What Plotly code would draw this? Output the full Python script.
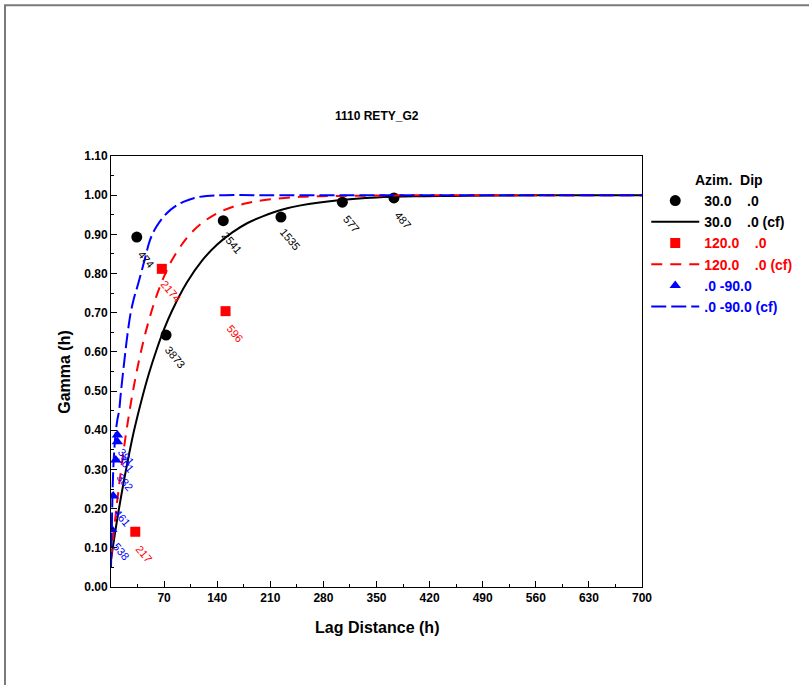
import plotly.graph_objects as go

# ---- experimental variogram points (lag, gamma, number of pairs) ----
lag_az30 = [34, 72.6, 148, 224, 305, 373]
gamma_az30 = [0.893, 0.643, 0.935, 0.944, 0.982, 0.993]
pairs_az30 = [474, 3873, 2541, 1535, 577, 487]

lag_az120 = [32, 67, 151]
gamma_az120 = [0.141, 0.812, 0.704]
pairs_az120 = [217, 2174, 596]

lag_vert = [1.0, 3.0, 6.3, 8.4, 8.4]
gamma_vert = [0.147, 0.232, 0.324, 0.371, 0.388]
pairs_vert = [538, 461, 382, 301, 391]

# ---- fitted model curves (cf) ----
cf_lag_az30 = [0, 5, 10, 20, 30, 40, 50, 60, 70, 80, 100, 120, 140, 160, 180,
               200, 225, 250, 300, 350, 400, 450, 500, 600, 700]
cf_gamma_az30 = [0.07, 0.134, 0.194, 0.301, 0.396, 0.475, 0.545, 0.605, 0.658,
                 0.703, 0.777, 0.833, 0.874, 0.905, 0.929, 0.946, 0.963, 0.974,
                 0.987, 0.994, 0.997, 0.998, 0.999, 1.0, 1.0]

cf_lag_az120 = [0, 5, 10, 20, 30, 40, 50, 60, 70, 80, 100, 120, 140, 160, 180,
                200, 250, 300, 350, 400, 500, 600, 700]
cf_gamma_az120 = [0.07, 0.164, 0.249, 0.394, 0.511, 0.605, 0.681, 0.743, 0.793,
                  0.833, 0.891, 0.929, 0.954, 0.970, 0.980, 0.987, 0.996, 0.998,
                  0.999, 1.0, 1.0, 1.0, 1.0]

cf_lag_vert = [0, 0.5, 1, 2, 3, 4, 6, 8.3, 10.7, 12.9, 17.3, 21.6, 26, 30, 36,
               45, 51.5, 60, 73.5, 85, 95.4, 110, 126, 150, 200, 300, 400, 500,
               600, 700]
cf_gamma_vert = [0.05, 0.10, 0.14, 0.24, 0.30, 0.34, 0.39, 0.426, 0.45, 0.494,
                 0.572, 0.643, 0.70, 0.735, 0.775, 0.84, 0.886, 0.92, 0.954,
                 0.972, 0.983, 0.993, 0.998, 1.0, 1.0, 1.0, 1.0, 1.0, 1.0, 1.0]

x_ticks = [70, 140, 210, 280, 350, 420, 490, 560, 630, 700]

BLACK = "#000000"
RED = "#ff0000"
BLUE = "#0000ff"
FONT = "Liberation Sans, Arial, sans-serif"
NB = "\u00a0"


def legend_label(text, color):
    return f"<b><span style='color:{color}'>{text}</span></b>"


fig = go.Figure()

fig.add_trace(go.Scatter(
    x=lag_az30, y=gamma_az30, mode="markers",
    marker=dict(symbol="circle", size=11, color=BLACK),
    name=legend_label(f"30.0{NB*4}.0", BLACK)))
fig.add_trace(go.Scatter(
    x=cf_lag_az30, y=cf_gamma_az30, mode="lines", line_shape="spline",
    line=dict(color=BLACK, width=2),
    name=legend_label(f"30.0{NB*4}.0 (cf)", BLACK)))
fig.add_trace(go.Scatter(
    x=lag_az120, y=gamma_az120, mode="markers",
    marker=dict(symbol="square", size=10, color=RED),
    name=legend_label(f"120.0{NB*4}.0", RED)))
fig.add_trace(go.Scatter(
    x=cf_lag_az120, y=cf_gamma_az120, mode="lines", line_shape="spline",
    line=dict(color=RED, width=2, dash="11px,8px"),
    name=legend_label(f"120.0{NB*4}.0 (cf)", RED)))
fig.add_trace(go.Scatter(
    x=lag_vert, y=gamma_vert, mode="markers",
    marker=dict(symbol="triangle-up", size=10, color=BLUE),
    name=legend_label(".0 -90.0", BLUE)))
fig.add_trace(go.Scatter(
    x=cf_lag_vert, y=cf_gamma_vert, mode="lines", line_shape="spline",
    line=dict(color=BLUE, width=2, dash="15px,5px"),
    name=legend_label(".0 -90.0 (cf)", BLUE)))

# pair-count labels next to each experimental point
annotations = []
for xs, ys, ns, col in [(lag_az30, gamma_az30, pairs_az30, BLACK),
                        (lag_az120, gamma_az120, pairs_az120, RED),
                        (lag_vert, gamma_vert, pairs_vert, BLUE)]:
    for x, y, n in zip(xs, ys, ns):
        annotations.append(dict(
            x=x, y=y, xref="x", yref="y", text=str(n), showarrow=False,
            textangle=50, xshift=9, yshift=-22,
            font=dict(family=FONT, size=11, color=col)))

annotations += [
    dict(text="<b>1110 RETY_G2</b>", x=0.5, y=1.093, xref="paper", yref="paper",
         showarrow=False, xanchor="center", yanchor="middle",
         font=dict(family=FONT, size=12, color=BLACK)),
    dict(text="<b>Lag Distance (h)</b>", x=0.5, y=-0.093, xref="paper",
         yref="paper", showarrow=False, xanchor="center", yanchor="middle",
         font=dict(family=FONT, size=16, color=BLACK)),
    dict(text="<b>Gamma (h)</b>", x=-0.088, y=0.5, xref="paper", yref="paper",
         showarrow=False, xanchor="center", yanchor="middle", textangle=-90,
         font=dict(family=FONT, size=16, color=BLACK)),
]

fig.update_layout(
    width=809, height=685,
    margin=dict(l=111, r=167, t=156, b=98),
    paper_bgcolor="white", plot_bgcolor="white",
    font=dict(family=FONT, color=BLACK),
    showlegend=True,
    legend=dict(
        x=1.008, y=0.975, xanchor="left", yanchor="top",
        bgcolor="rgba(0,0,0,0)",
        title=dict(text=f"{NB*12}<b>Azim.{NB*2}Dip</b>",
                   font=dict(family=FONT, size=14, color=BLACK)),
        font=dict(family=FONT, size=14),
        itemwidth=48, tracegroupgap=0,
    ),
    annotations=annotations,
    shapes=[dict(type="rect", xref="paper", yref="paper",
                 x0=-0.1996, x1=1.40, y0=-0.30, y1=1.350,
                 line=dict(color="#7a7a7a", width=2), layer="below")],
)

fig.update_xaxes(
    range=[0, 700], tickvals=x_ticks, ticktext=[f"<b>{v}</b>" for v in x_ticks],
    ticks="inside", ticklen=6, tickcolor=BLACK, showgrid=False, zeroline=False,
    showline=True, linecolor=BLACK, linewidth=1, mirror=True,
    tickfont=dict(family=FONT, size=12, color=BLACK),
    minor=dict(ticks="inside", dtick=35, ticklen=3, tickcolor=BLACK))
fig.update_yaxes(
    range=[0, 1.1], dtick=0.1, tickformat=".2f",
    ticks="inside", ticklen=6, tickcolor=BLACK, showgrid=False, zeroline=False,
    showline=True, linecolor=BLACK, linewidth=1, mirror=True,
    tickfont=dict(family=FONT, size=12, color=BLACK, weight="bold"),
    minor=dict(ticks="inside", dtick=0.05, ticklen=3, tickcolor=BLACK))

fig.write_html("out.html")
